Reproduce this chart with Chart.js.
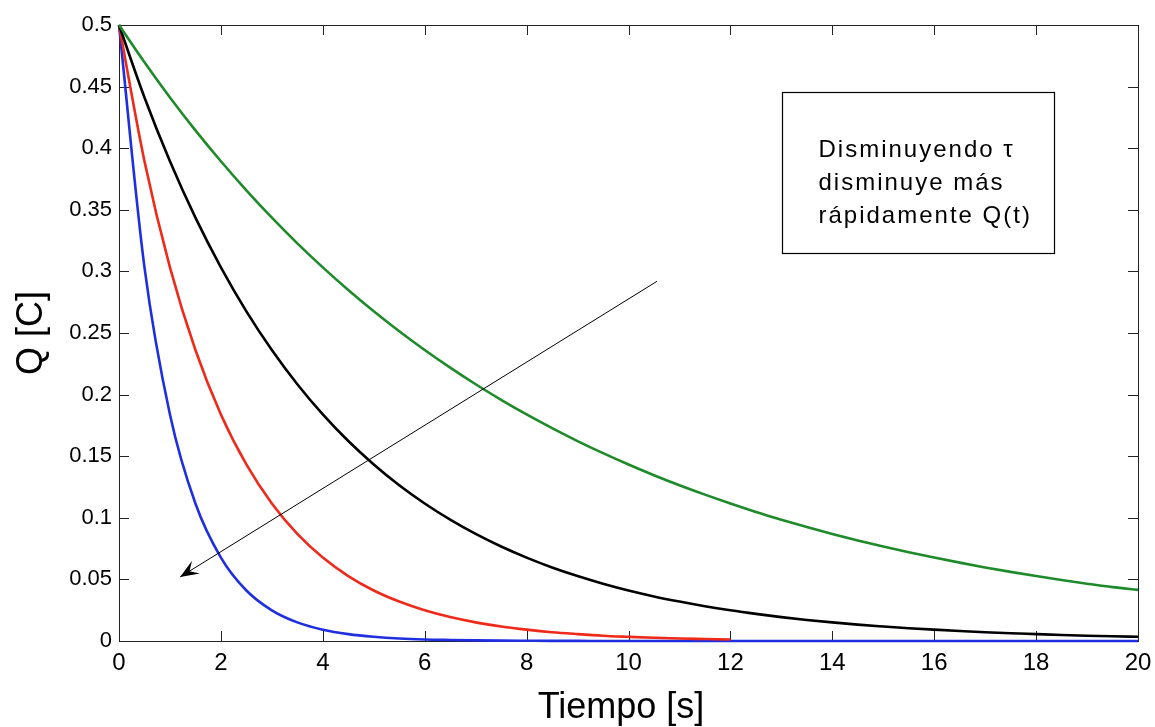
<!DOCTYPE html>
<html>
<head>
<meta charset="utf-8">
<script src="https://cdn.jsdelivr.net/npm/chart.js@4/dist/chart.umd.min.js"></script>
<style>
    body { margin: 0; background: #fff; }
    #wrap { width: 1155px; height: 727px; }
</style>
</head>
<body>
<div id="wrap"><canvas id="grafico"></canvas></div>
<script>
// tiempos (cada 0.5 s)
const tiempos = [0, 0.5, 1, 1.5, 2, 2.5, 3, 3.5, 4, 4.5, 5, 5.5, 6, 6.5, 7, 7.5, 8, 8.5, 9, 9.5,
    10, 10.5, 11, 11.5, 12, 12.5, 13, 13.5, 14, 14.5, 15, 15.5, 16, 16.5, 17, 17.5, 18, 18.5, 19, 19.5, 20];

const cargaAzul = [0.5, 0.3033, 0.1839, 0.1116, 0.0677, 0.0410, 0.0249, 0.0151, 0.0092, 0.0056, 0.0034, 0.0020,
    0.0012, 0.0008, 0.0005, 0.0003, 0.0002, 0.0001, 0.0001,
    0, 0, 0, 0, 0, 0, 0, 0, 0, 0, 0, 0, 0, 0, 0, 0, 0, 0, 0, 0, 0, 0];
const cargaRoja = [0.5, 0.3894, 0.3033, 0.2362, 0.1839, 0.1433, 0.1116, 0.0869, 0.0677, 0.0527, 0.0410, 0.0320,
    0.0249, 0.0194, 0.0151, 0.0118, 0.0092, 0.0071, 0.0056, 0.0043, 0.0034, 0.0026, 0.0020, 0.0016, 0.0012];
const cargaNegra = [0.5, 0.4412, 0.3894, 0.3436, 0.3033, 0.2676, 0.2362, 0.2084, 0.1839, 0.1623, 0.1433, 0.1264,
    0.1116, 0.0985, 0.0869, 0.0767, 0.0677, 0.0597, 0.0527, 0.0465, 0.0410, 0.0362, 0.0320, 0.0282, 0.0249, 0.0220,
    0.0194, 0.0171, 0.0151, 0.0133, 0.0118, 0.0104, 0.0092, 0.0081, 0.0071, 0.0063, 0.0056, 0.0049, 0.0043, 0.0038, 0.0034];
const cargaVerde = [0.5, 0.4697, 0.4412, 0.4145, 0.3894, 0.3658, 0.3436, 0.3228, 0.3033, 0.2849, 0.2676, 0.2514,
    0.2362, 0.2219, 0.2084, 0.1958, 0.1839, 0.1728, 0.1623, 0.1525, 0.1433, 0.1346, 0.1264, 0.1188, 0.1116, 0.1048,
    0.0985, 0.0925, 0.0869, 0.0816, 0.0767, 0.0720, 0.0677, 0.0636, 0.0597, 0.0561, 0.0527, 0.0495, 0.0465, 0.0437, 0.0415];

const ticksX = [0, 2, 4, 6, 8, 10, 12, 14, 16, 18, 20];
const ticksY = [0, 0.05, 0.1, 0.15, 0.2, 0.25, 0.3, 0.35, 0.4, 0.45, 0.5];

const flecha = { desde: [10.56, 0.292], hasta: [1.2, 0.052] };
const caja = { x0: 13.01, x1: 18.35, y0: 0.4456, y1: 0.315 };
const textoCaja = ['Disminuyendo \u03c4', 'disminuye más', 'rápidamente Q(t)'];

function puntos(valores) {
    return valores.map((v, i) => ({ x: tiempos[i], y: v }));
}

function serie(valores, color) {
    return {
        data: puntos(valores),
        borderColor: color,
        borderWidth: 2.6,
        pointRadius: 0,
        cubicInterpolationMode: 'monotone',
        clip: 4,
        fill: false
    };
}

const extras = {
    id: 'extras',
    beforeDatasetsDraw(chart) {
        const { ctx, chartArea: a, scales: { x, y } } = chart;
        ctx.save();
        ctx.strokeStyle = '#222';
        ctx.lineWidth = 1;
        ctx.beginPath();
        ticksX.forEach(v => {
            const px = Math.round(x.getPixelForValue(v)) + 0.5;
            ctx.moveTo(px, a.bottom); ctx.lineTo(px, a.bottom - 10);
            ctx.moveTo(px, a.top); ctx.lineTo(px, a.top + 10);
        });
        ticksY.forEach(v => {
            const py = Math.round(y.getPixelForValue(v)) + 0.5;
            ctx.moveTo(a.left, py); ctx.lineTo(a.left + 10, py);
            ctx.moveTo(a.right, py); ctx.lineTo(a.right - 10, py);
        });
        ctx.stroke();
        ctx.strokeRect(Math.round(a.left) + 0.5, Math.round(a.top) + 0.5, Math.round(a.width), Math.round(a.height));
        ctx.restore();
    },
    afterDraw(chart) {
        const { ctx, chartArea: a, scales: { x, y } } = chart;
        ctx.save();

        // flecha
        const x1 = x.getPixelForValue(flecha.desde[0]), y1 = y.getPixelForValue(flecha.desde[1]);
        const x2 = x.getPixelForValue(flecha.hasta[0]), y2 = y.getPixelForValue(flecha.hasta[1]);
        ctx.strokeStyle = '#000';
        ctx.lineWidth = 1;
        ctx.beginPath();
        ctx.moveTo(x1, y1);
        ctx.lineTo(x2, y2);
        ctx.stroke();
        const ang = Math.atan2(y2 - y1, x2 - x1);
        ctx.fillStyle = '#000';
        ctx.beginPath();
        ctx.moveTo(x2, y2);
        ctx.lineTo(x2 - 20 * Math.cos(ang - 0.38), y2 - 20 * Math.sin(ang - 0.38));
        ctx.lineTo(x2 - 11 * Math.cos(ang), y2 - 11 * Math.sin(ang));
        ctx.lineTo(x2 - 20 * Math.cos(ang + 0.38), y2 - 20 * Math.sin(ang + 0.38));
        ctx.closePath();
        ctx.fill();

        // caja de texto
        const bx0 = Math.round(x.getPixelForValue(caja.x0)) + 0.5, bx1 = Math.round(x.getPixelForValue(caja.x1)) + 0.5;
        const by0 = Math.round(y.getPixelForValue(caja.y0)) + 0.5, by1 = Math.round(y.getPixelForValue(caja.y1)) + 0.5;
        ctx.fillStyle = '#fff';
        ctx.fillRect(bx0, by0, bx1 - bx0, by1 - by0);
        ctx.strokeStyle = '#000';
        ctx.lineWidth = 1.2;
        ctx.strokeRect(bx0, by0, bx1 - bx0, by1 - by0);
        ctx.fillStyle = '#000';
        ctx.font = '24px "Liberation Sans", Arial, sans-serif';
        ctx.letterSpacing = '2px';
        ctx.textAlign = 'left';
        ctx.textBaseline = 'alphabetic';
        textoCaja.forEach((linea, i) => ctx.fillText(linea, bx0 + 36, by0 + 64 + i * 33));
        ctx.letterSpacing = '0px';

        // titulos de ejes
        ctx.font = '36px "Liberation Sans", Arial, sans-serif';
        ctx.textAlign = 'center';
        ctx.fillText('Tiempo [s]', 621, 718);
        ctx.translate(42, (a.top + a.bottom) / 2);
        ctx.rotate(-Math.PI / 2);
        ctx.fillText('Q [C]', 0, 0);
        ctx.restore();
    }
};

const ctx = document.getElementById('grafico').getContext('2d');
const chart = new Chart(ctx, {
    type: 'line',
    data: {
        datasets: [
            serie(cargaVerde, '#1e8a2a'),
            serie(cargaNegra, '#000000'),
            serie(cargaRoja, '#ee2a1a'),
            serie(cargaAzul, '#1f2fe0')
        ]
    },
    options: {
        responsive: true,
        maintainAspectRatio: false,
        animation: false,
        layout: { padding: { top: 25, right: 17, left: 0, bottom: 0 } },
        plugins: {
            legend: { display: false },
            tooltip: { enabled: false }
        },
        scales: {
            x: {
                type: 'linear',
                min: 0,
                max: 20,
                grid: { display: false, drawTicks: false },
                border: { display: false },
                afterFit: s => { s.height = 86; s.paddingLeft = 0; s.paddingRight = 0; },
                afterBuildTicks: s => { s.ticks = ticksX.map(v => ({ value: v })); },
                ticks: {
                    padding: 8,
                    color: '#000',
                    font: { family: '"Liberation Sans", Arial, sans-serif', size: 24 },
                    maxRotation: 0
                }
            },
            y: {
                type: 'linear',
                min: 0,
                max: 0.5,
                grid: { display: false, drawTicks: false },
                border: { display: false },
                afterFit: s => { s.width = 119; s.paddingTop = 0; s.paddingBottom = 0; },
                afterBuildTicks: s => { s.ticks = ticksY.map(v => ({ value: v })); },
                ticks: {
                    padding: 7,
                    color: '#000',
                    font: { family: '"Liberation Sans", Arial, sans-serif', size: 22 },
                    callback: v => String(Number(v.toFixed(2)))
                }
            }
        }
    },
    plugins: [extras]
});
</script>
</body>
</html>
